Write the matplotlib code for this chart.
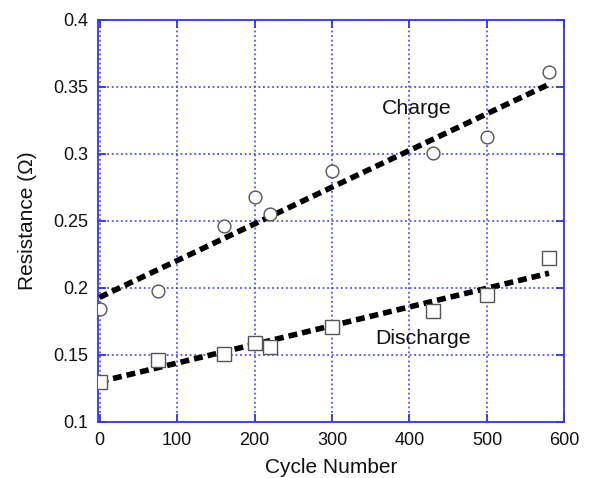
import matplotlib
matplotlib.use("Agg")
import matplotlib.pyplot as plt
from matplotlib.ticker import FuncFormatter

plt.rcParams['font.family'] = ['Liberation Sans', 'DejaVu Sans']

cycles = [0, 75, 160, 200, 220, 300, 430, 500, 580]
charge = [0.184, 0.198, 0.246, 0.268, 0.255, 0.287, 0.301, 0.313, 0.361]
discharge = [0.130, 0.146, 0.151, 0.159, 0.156, 0.171, 0.183, 0.195, 0.222]
fit_x = [0, 580]
charge_fit = [0.193, 0.352]
discharge_fit = [0.130, 0.211]
xticks = [0, 100, 200, 300, 400, 500, 600]
yticks = [0.1, 0.15, 0.2, 0.25, 0.3, 0.35, 0.4]

blue = '#3333ff'
fig = plt.figure(figsize=(5.92, 4.78), dpi=100)
ax = fig.add_axes([0.1655, 0.1172, 0.788, 0.8410])

ax.plot(fit_x, charge_fit, color='black', lw=4, ls=(0, (1.6, 0.9)), zorder=3)
ax.plot(fit_x, discharge_fit, color='black', lw=4, ls=(0, (1.6, 0.9)), zorder=3)
ax.plot(cycles, charge, 'o', ms=9.2, mfc='white', mec='#555555', mew=1.0, zorder=4)
ax.plot(cycles, discharge, 's', ms=10.5, mfc='white', mec='#555555', mew=1.0, zorder=4)

ax.set_xlim(-2, 600)
ax.set_ylim(0.1, 0.4)
ax.set_xticks(xticks)
ax.set_yticks(yticks)
ax.yaxis.set_major_formatter(FuncFormatter(lambda v, p: '%g' % round(v, 3)))
ax.grid(True, color=blue, ls=(0, (1.2, 1.8)), lw=1.1)
ax.set_axisbelow(True)
for s in ax.spines.values():
    s.set_color(blue)
    s.set_linewidth(1.3)
ax.tick_params(direction='in', length=6, width=1.3, color=blue, top=True, right=True,
               labelsize=13, labelcolor='#111111', pad=7)

ax.text(364, 0.334, 'Charge', fontsize=15.3, va='center', ha='left', color='#111111')
ax.text(356, 0.1625, 'Discharge', fontsize=15.3, va='center', ha='left', color='#111111')

ax.set_xlabel('Cycle Number', fontsize=15, color='#111111', labelpad=7)
ax.set_ylabel('Resistance (\u03a9)', fontsize=15, color='#111111', labelpad=12)

fig.savefig('out.png', dpi=100)
